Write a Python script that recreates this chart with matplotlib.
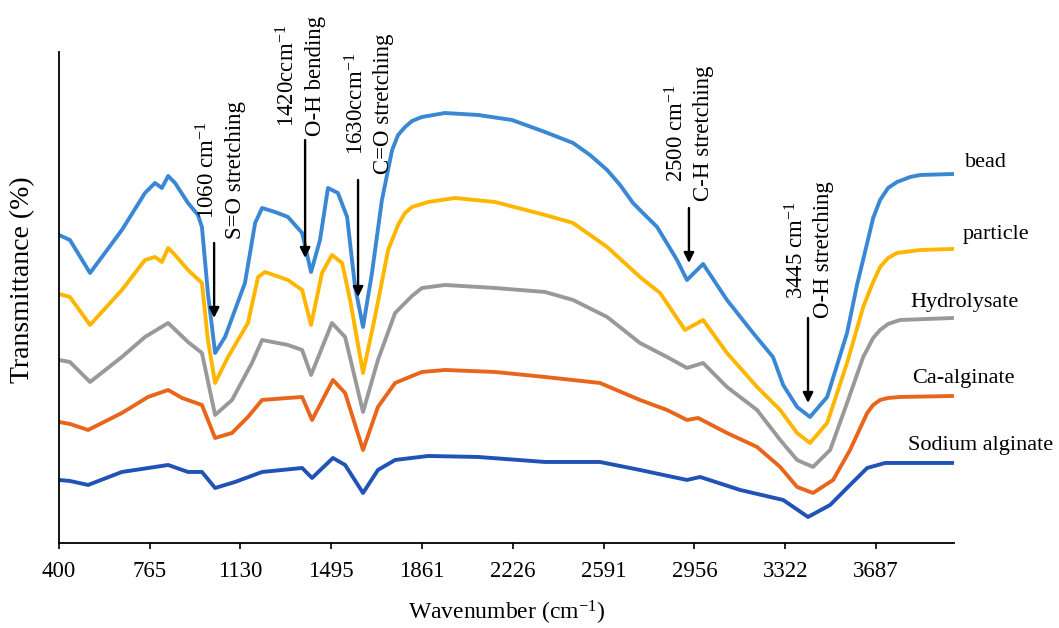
import matplotlib
matplotlib.use("Agg")
import matplotlib.pyplot as plt

plt.rcParams["font.family"] = "Liberation Serif"
plt.rcParams["mathtext.fontset"] = "custom"
plt.rcParams["mathtext.rm"] = "Liberation Serif"
plt.rcParams["mathtext.it"] = "Liberation Serif:italic"

# FTIR spectra, transmittance in arbitrary units (curves are offset)
bead_wn = [400, 444, 525, 653, 746, 786, 814, 839, 867, 919, 959, 975, 999, 1028, 1068, 1148,
           1189, 1217, 1269, 1321, 1378, 1414, 1450, 1482, 1522, 1559, 1591, 1623, 1659, 1699,
           1740, 1764, 1792, 1820, 1860, 1953, 2086, 2222, 2355, 2468, 2536, 2605, 2657, 2709,
           2757, 2806, 2886, 2926, 2991, 3087, 3192, 3272, 3313, 3369, 3421, 3490, 3570, 3610,
           3651, 3675, 3703, 3735, 3771, 3824, 3864, 3997]
bead_t = [308, 303, 270, 313, 350, 360, 355, 367, 360, 340, 328, 316, 250, 190, 206, 260,
          320, 335, 331, 326, 310, 271, 303, 355, 350, 326, 256, 216, 270, 343,
          393, 408, 416, 422, 426, 430, 428, 423, 411, 400, 388, 373, 358, 340,
          328, 316, 283, 263, 279, 243, 210, 186, 158, 136, 126, 146, 210, 258,
          300, 325, 343, 355, 361, 366, 368, 369]

particle_wn = [400, 444, 525, 653, 746, 786, 814, 839, 867, 919, 975, 999, 1028, 1080, 1160,
               1201, 1229, 1321, 1378, 1414, 1458, 1498, 1539, 1571, 1623, 1671, 1724, 1764,
               1792, 1820, 1885, 1993, 2154, 2355, 2468, 2605, 2737, 2818, 2918, 2991, 3087,
               3208, 3301, 3369, 3421, 3490, 3570, 3635, 3675, 3703, 3735, 3771, 3864, 3997]
particle_t = [249, 246, 218, 253, 283, 286, 281, 295, 288, 273, 260, 203, 160, 186, 220,
              266, 271, 263, 253, 218, 270, 288, 280, 243, 170, 226, 293, 318,
              330, 336, 341, 345, 341, 328, 320, 296, 266, 250, 213, 223, 190,
              156, 133, 110, 100, 120, 180, 236, 261, 276, 285, 290, 293, 294]

hydro_wn = [400, 444, 525, 653, 746, 839, 919, 975, 1028, 1096, 1176, 1217, 1321, 1378, 1414,
            1498, 1551, 1623, 1683, 1752, 1820, 1860, 1953, 2154, 2355, 2468, 2605, 2737,
            2846, 2926, 2991, 3087, 3208, 3301, 3369, 3433, 3502, 3570, 3635, 3675, 3703,
            3735, 3783, 3997]
hydro_t = [183, 181, 161, 186, 206, 220, 201, 190, 128, 143, 180, 203, 198, 193, 168,
           220, 206, 131, 183, 230, 247, 255, 258, 255, 251, 243, 226, 200,
           186, 175, 180, 156, 133, 103, 83, 76, 93, 140, 186, 205, 213,
           219, 223, 225]

ca_wn = [400, 444, 517, 653, 758, 839, 895, 975, 1028, 1096, 1160, 1217, 1321, 1378, 1418,
         1502, 1551, 1623, 1683, 1752, 1820, 1860, 1953, 2154, 2355, 2576, 2737, 2846, 2926,
         2971, 3087, 3208, 3301, 3369, 3433, 3514, 3582, 3651, 3675, 3703, 3735, 3783, 3997]
ca_t = [121, 119, 113, 130, 146, 153, 145, 138, 105, 110, 126, 143, 145, 146, 123,
        163, 150, 93, 136, 160, 167, 171, 173, 171, 166, 160, 143, 133, 123,
        125, 110, 96, 76, 56, 50, 63, 93, 130, 138, 143, 145, 146, 147]

sodium_wn = [400, 444, 517, 653, 786, 839, 919, 975, 1028, 1108, 1217, 1378, 1418, 1502,
             1551, 1623, 1683, 1752, 1885, 2086, 2355, 2576, 2737, 2926, 2979, 3140, 3313,
             3413, 3502, 3582, 3651, 3723, 3997]
sodium_t = [63, 62, 58, 71, 76, 78, 71, 71, 55, 61, 71, 75, 65, 85,
            78, 50, 73, 83, 87, 86, 81, 81, 73, 63, 66, 53, 43,
            26, 38, 58, 75, 80, 80]

tick_labels = [400, 765, 1130, 1495, 1861, 2226, 2591, 2956, 3322, 3687]

series = [
    ("bead", bead_wn, bead_t, "#3a88d4", (0.911, 0.742)),
    ("particle", particle_wn, particle_t, "#ffb600", (0.909, 0.626)),
    ("Hydrolysate", hydro_wn, hydro_t, "#999999", (0.860, 0.518)),
    ("Ca-alginate", ca_wn, ca_t, "#e8661c", (0.861, 0.398)),
    ("Sodium alginate", sodium_wn, sodium_t, "#2152b5", (0.857, 0.291)),
]

# peak annotations: text, text position, arrow x, arrow top, arrow bottom
peaks = [
    ("1060 cm$^{-1}$\nS=O stretching", (1052, 373), 1024, 300, 225),
    ("1420ccm$^{-1}$\nO-H bending", (1374, 467), 1390, 403, 285),
    ("1630ccm$^{-1}$\nC=O stretching", (1650, 439), 1603, 363, 246),
    ("2500 cm$^{-1}$\nC-H stretching", (2938, 410), 2934, 335, 280),
    ("3445 cm$^{-1}$\nO-H stretching", (3420, 293), 3413, 225, 140),
]

fig = plt.figure(figsize=(10.59, 6.28), dpi=100)
ax = fig.add_axes([0.0557, 0.1354, 0.8451, 0.7818])

for name, wn, t, color, pos in series:
    ax.plot(wn, t, color=color, lw=2.8, solid_joinstyle="round", solid_capstyle="round")
    fig.text(pos[0], pos[1], name, fontsize=16, ha="left", va="center")

for text, tpos, ax_x, y0, y1 in peaks:
    ax.text(tpos[0], tpos[1], text, rotation=90, ha="center", va="center",
            multialignment="center", fontsize=16.5, linespacing=1.3)
    ax.annotate("", xy=(ax_x, y1), xytext=(ax_x, y0),
                arrowprops=dict(arrowstyle="-|>", color="black", lw=1.7,
                                mutation_scale=15, shrinkA=0, shrinkB=0))

ax.set_xlim(400, 4000)
ax.set_ylim(0, 491)
ax.set_xticks(tick_labels)
ax.set_xticklabels([str(v) for v in tick_labels])
ax.set_yticks([])
ax.tick_params(axis="x", direction="out", length=4, width=1.2, labelsize=16.5, pad=9)
for side in ["top", "right"]:
    ax.spines[side].set_visible(False)
for side in ["left", "bottom"]:
    ax.spines[side].set_linewidth(1.3)

ax.set_xlabel("Wavenumber (cm$^{-1}$)", fontsize=17, labelpad=12)
fig.text(0.021, 1 - 280 / 628, "Transmittance (%)", rotation=90,
         ha="center", va="center", fontsize=20)

fig.savefig("out.png", dpi=100)
